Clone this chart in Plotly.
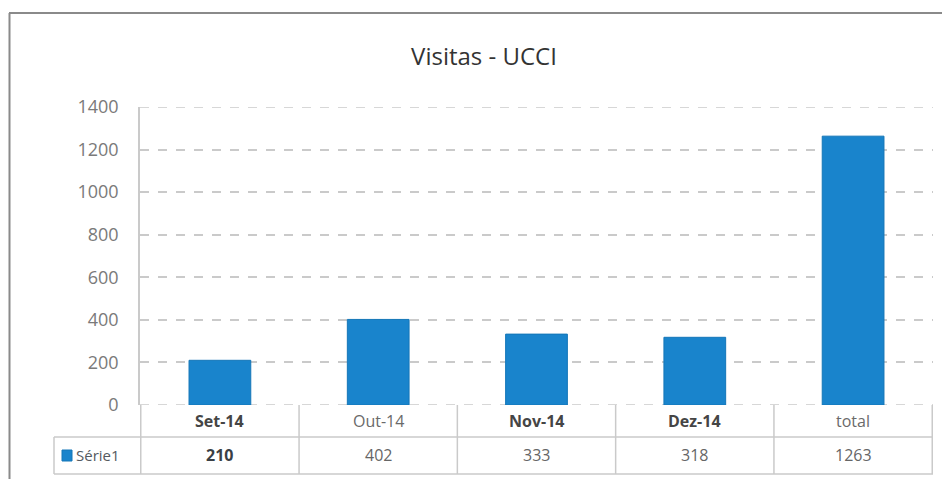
import plotly.graph_objects as go

categories = ["Set-14", "Out-14", "Nov-14", "Dez-14", "total"]
visits = [210, 402, 333, 318, 1263]
series_name = "Série1"
y_ticks = [0, 200, 400, 600, 800, 1000, 1200, 1400]
title_text = "Visitas - UCCI"

BAR_BLUE = "#1984cc"
GRID = "#cacaca"
FONT = "Open Sans, sans-serif"

# the page body has an 8px margin, so screen positions are shifted by OFF
OFF = 8
W, H = 950, 479
L = 140 - OFF
R = W - (933 - OFF)
T = 107 - OFF
B = H - (405 - OFF)
PH = H - T - B
PW = W - L - R


def py(pix):
    # screen row -> paper y
    return (H - B - (pix - OFF)) / PH


def px_(pix):
    # screen column -> paper x
    return (pix - OFF - L) / PW


fig = go.Figure(
    go.Bar(
        x=categories,
        y=visits,
        name=series_name,
        marker=dict(color=BAR_BLUE, line=dict(color="#1476b8", width=1)),
        width=0.39,
        showlegend=False,
    )
)

shapes = []
annotations = []

# grid lines at the ends of the range
for yv in (y_ticks[0], y_ticks[-1]):
    shapes.append(dict(type="line", xref="paper", yref="y", x0=0, x1=1, y0=yv, y1=yv,
                       line=dict(color=GRID, width=1.5, dash="dash"), layer="below"))

# table grid
row_mid = py(437)
row_bot = py(474)
for i in range(len(categories) + 1):
    shapes.append(dict(type="line", xref="x", yref="paper", x0=i - 0.5, x1=i - 0.5,
                       y0=0, y1=row_bot, line=dict(color=GRID, width=1.5)))
for yy in (row_mid, row_bot):
    shapes.append(dict(type="line", xref="paper", yref="paper", x0=px_(54), x1=1,
                       y0=yy, y1=yy, line=dict(color=GRID, width=1.5)))
shapes.append(dict(type="line", xref="paper", yref="paper", x0=px_(54), x1=px_(54),
                   y0=row_mid, y1=row_bot, line=dict(color=GRID, width=1.5)))
# legend key
shapes.append(dict(type="rect", xref="paper", yref="paper", x0=px_(62), x1=px_(72),
                   y0=py(461), y1=py(450), fillcolor=BAR_BLUE, line=dict(color="#1476b8", width=1)))
# outer chart border
shapes.append(dict(type="line", xref="paper", yref="paper", x0=px_(9), x1=px_(960),
                   y0=py(13), y1=py(13), line=dict(color="#8a8a8a", width=2)))
shapes.append(dict(type="line", xref="paper", yref="paper", x0=px_(9.5), x1=px_(9.5),
                   y0=py(13), y1=py(490), line=dict(color="#8a8a8a", width=2)))

bold_cols = {"Set-14", "Nov-14", "Dez-14"}
for cat, val in zip(categories, visits):
    strong = cat in bold_cols
    annotations.append(dict(
        x=cat, y=py(421), xref="x", yref="paper", showarrow=False,
        xanchor="center", yanchor="middle",
        text=f"<b>{cat}</b>" if strong else cat,
        font=dict(family=FONT, size=16, color="#454545" if strong else "#6a6a6a"),
    ))
    annotations.append(dict(
        x=cat, y=py(455), xref="x", yref="paper", showarrow=False,
        xanchor="center", yanchor="middle",
        text=f"<b>{val}</b>" if cat == "Set-14" else str(val),
        font=dict(family=FONT, size=16, color="#3a3f45" if cat == "Set-14" else "#666666"),
    ))
annotations.append(dict(
    x=px_(74), y=py(455), xref="paper", yref="paper", showarrow=False,
    xanchor="left", yanchor="middle", text=series_name,
    font=dict(family=FONT, size=15, color="#555a60"),
))

fig.update_layout(
    width=W, height=H,
    margin=dict(l=L, r=R, t=T, b=B),
    paper_bgcolor="white", plot_bgcolor="white",
    title=dict(text=title_text, x=(484 - OFF) / W, xanchor="center",
               y=1 - (57 - OFF) / H, yanchor="middle",
               font=dict(family=FONT, size=24, color="#333333")),
    shapes=shapes,
    annotations=annotations,
)
fig.update_yaxes(
    range=[0, 1400], tickvals=y_ticks, showgrid=True, gridcolor=GRID, griddash="dash",
    gridwidth=1.5, zeroline=False, showline=True, linecolor=GRID, linewidth=1.5,
    ticklabelstandoff=16, tickfont=dict(family=FONT, size=18, color="#7a7a7a"),
)
fig.update_xaxes(showticklabels=False, showline=False, showgrid=False, zeroline=False)

fig.write_html("out.html")
